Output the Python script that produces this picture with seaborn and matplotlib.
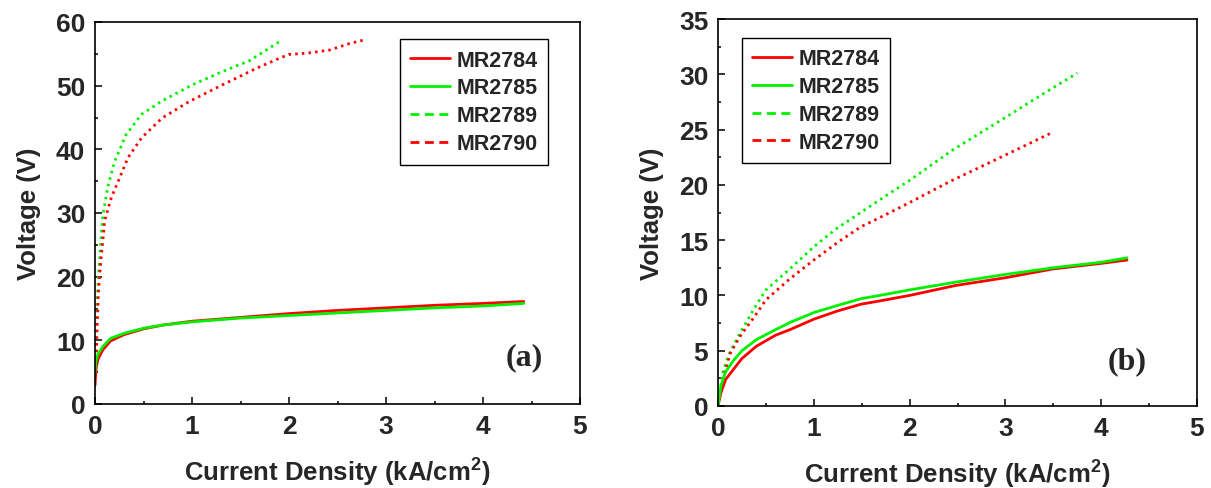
import numpy as np
import pandas as pd
import seaborn as sns
import matplotlib
matplotlib.use("Agg")
import matplotlib.pyplot as plt
from matplotlib.lines import Line2D
from matplotlib.ticker import MultipleLocator

# ---------------- data ----------------
labels = ["MR2784", "MR2785", "MR2789", "MR2790"]

# panel (a)
a_mr2784_x = [0.0, 0.01, 0.03, 0.08, 0.16, 0.3, 0.5, 0.7, 1.0, 1.5, 2.0, 2.5, 3.0, 3.5, 4.0, 4.42]
a_mr2784_y = [2.9, 5.5, 7.0, 8.5, 9.9, 10.9, 11.8, 12.4, 13.0, 13.6, 14.2, 14.7, 15.1, 15.5, 15.8, 16.1]
a_mr2785_x = [0.0, 0.01, 0.03, 0.08, 0.16, 0.3, 0.5, 0.7, 1.0, 1.5, 2.0, 2.5, 3.0, 3.5, 4.0, 4.42]
a_mr2785_y = [5.0, 6.8, 7.8, 9.0, 10.3, 11.1, 11.9, 12.4, 12.9, 13.5, 13.9, 14.3, 14.7, 15.1, 15.4, 15.8]
a_mr2789_x = [0.0, 0.01, 0.02, 0.04, 0.06, 0.08, 0.13, 0.2, 0.32, 0.48, 0.69, 1.0, 1.31, 1.59, 1.9]
a_mr2789_y = [5.0, 11.0, 16.0, 21.0, 25.5, 29.5, 34.0, 38.0, 42.3, 45.5, 47.6, 50.1, 52.2, 53.9, 56.9]
a_mr2790_x = [0.01, 0.02, 0.035, 0.055, 0.1, 0.17, 0.24, 0.34, 0.48, 0.69, 0.97, 1.31, 1.66, 1.9, 2.0, 2.18, 2.42, 2.62, 2.78]
a_mr2790_y = [5.0, 11.0, 17.4, 21.6, 28.8, 32.5, 35.0, 38.7, 41.8, 44.9, 47.5, 50.1, 52.7, 54.3, 54.9, 55.1, 55.6, 56.6, 57.2]

# panel (b)
b_mr2784_x = [0.0, 0.03, 0.08, 0.16, 0.25, 0.4, 0.6, 0.75, 1.0, 1.25, 1.49, 1.75, 2.0, 2.48, 3.0, 3.5, 4.0, 4.27]
b_mr2784_y = [0.0, 1.2, 2.4, 3.3, 4.3, 5.4, 6.4, 6.9, 7.85, 8.6, 9.2, 9.6, 10.0, 10.9, 11.6, 12.4, 12.9, 13.2]
b_mr2785_x = [0.0, 0.03, 0.08, 0.16, 0.25, 0.4, 0.6, 0.75, 1.0, 1.25, 1.49, 1.75, 2.0, 2.48, 3.0, 3.5, 4.0, 4.27]
b_mr2785_y = [0.0, 1.8, 3.1, 4.1, 5.0, 6.0, 6.9, 7.55, 8.45, 9.1, 9.7, 10.1, 10.5, 11.2, 11.9, 12.5, 13.0, 13.4]
b_mr2789_x = [0.0, 0.05, 0.11, 0.23, 0.39, 0.5, 0.75, 1.0, 1.23, 1.49, 1.75, 2.0, 2.44, 3.0, 3.5, 3.75]
b_mr2789_y = [0.0, 3.0, 4.6, 6.6, 9.0, 10.5, 12.4, 14.4, 16.0, 17.5, 19.0, 20.4, 23.1, 26.1, 28.8, 30.1]
b_mr2790_x = [0.0, 0.06, 0.13, 0.23, 0.39, 0.5, 0.75, 1.0, 1.25, 1.49, 1.75, 2.0, 2.42, 3.0, 3.48]
b_mr2790_y = [0.0, 2.7, 4.8, 6.3, 8.2, 9.6, 11.5, 13.2, 14.8, 16.2, 17.3, 18.4, 20.3, 22.7, 24.7]

x_label = "Current Density (kA/cm$^\\mathbf{2}$)"
y_label = "Voltage (V)"
panel_tags = ["(a)", "(b)"]

# ---------------- style ----------------
sns.set_style("ticks")
plt.rcParams["font.family"] = ["Liberation Sans", "DejaVu Sans"]
plt.rcParams["font.weight"] = "bold"
plt.rcParams["mathtext.fontset"] = "custom"
plt.rcParams["mathtext.bf"] = "Liberation Sans:bold"
plt.rcParams["mathtext.rm"] = "Liberation Sans:bold"

RED = "#ff0000"
GREEN = "#00f000"
colors = [RED, GREEN, GREEN, RED]
dash_line = (0, (0.9, 1.5))
styles = ["-", "-", dash_line, dash_line]
legend_styles = ["-", "-", (0, (3.2, 2.0)), (0, (3.2, 2.0))]

fig = plt.figure(figsize=(12.11, 4.89), dpi=100)
ax_a = fig.add_axes([95/1211, 1-405/489, (580-95)/1211, (405-23)/489])
ax_b = fig.add_axes([718/1211, 1-407/489, (1197-718)/1211, (407-20)/489])

panels = [
    (ax_a, [(a_mr2784_x, a_mr2784_y), (a_mr2785_x, a_mr2785_y),
            (a_mr2789_x, a_mr2789_y), (a_mr2790_x, a_mr2790_y)], 60, 10, 5, (0.934, 0.955), "upper right"),
    (ax_b, [(b_mr2784_x, b_mr2784_y), (b_mr2785_x, b_mr2785_y),
            (b_mr2789_x, b_mr2789_y), (b_mr2790_x, b_mr2790_y)], 35, 5, 2.5, (0.05, 0.951), "upper left"),
]

for i, (ax, series, ymax, ymaj, ymin, anchor, loc) in enumerate(panels):
    # dashed first, then solid on top
    for j in [2, 3, 0, 1]:
        xs, ys = series[j]
        df = pd.DataFrame({"x": xs, "y": ys})
        sns.lineplot(data=df, x="x", y="y", ax=ax, color=colors[j], linewidth=2.0,
                     sort=False, estimator=None)
        ax.lines[-1].set_linestyle(styles[j])
    ax.set_xlim(0, 5)
    ax.set_ylim(0, ymax)
    ax.xaxis.set_major_locator(MultipleLocator(1))
    ax.xaxis.set_minor_locator(MultipleLocator(0.5))
    ax.yaxis.set_major_locator(MultipleLocator(ymaj))
    ax.yaxis.set_minor_locator(MultipleLocator(ymin))
    ax.tick_params(which="both", direction="in", top=False, right=False, width=1.1, color="black")
    ax.tick_params(which="major", length=5, labelsize=19, pad=7)
    ax.tick_params(which="minor", length=2.5)
    for lab in ax.get_xticklabels() + ax.get_yticklabels():
        lab.set_fontweight("bold")
    for sp in ax.spines.values():
        sp.set_visible(True)
        sp.set_linewidth(1.2)
        sp.set_color("black")
    ax.set_xlabel(x_label, fontsize=18.5, fontweight="bold", labelpad=12)
    ax.set_ylabel(y_label, fontsize=18.5, fontweight="bold", labelpad=11)

    handles = [Line2D([], [], color=colors[k], linewidth=2.0, linestyle=legend_styles[k]) for k in range(4)]
    leg = ax.legend(handles, labels, loc=loc, bbox_to_anchor=anchor, borderaxespad=0,
                    prop={"family": "Liberation Sans", "weight": "bold", "size": 15.5},
                    handlelength=1.85, handletextpad=0.3, labelspacing=0.32, borderpad=0.48,
                    fancybox=False, framealpha=1, edgecolor="black")
    leg.get_frame().set_linewidth(1.0)

ax_a.text(4.43, 7.4, panel_tags[0], fontsize=23, fontweight="bold", family="Liberation Serif",
          ha="center", va="center")
ax_b.text(4.27, 4.07, panel_tags[1], fontsize=23, fontweight="bold", family="Liberation Serif",
          ha="center", va="center")

fig.savefig("out.png", dpi=100)
